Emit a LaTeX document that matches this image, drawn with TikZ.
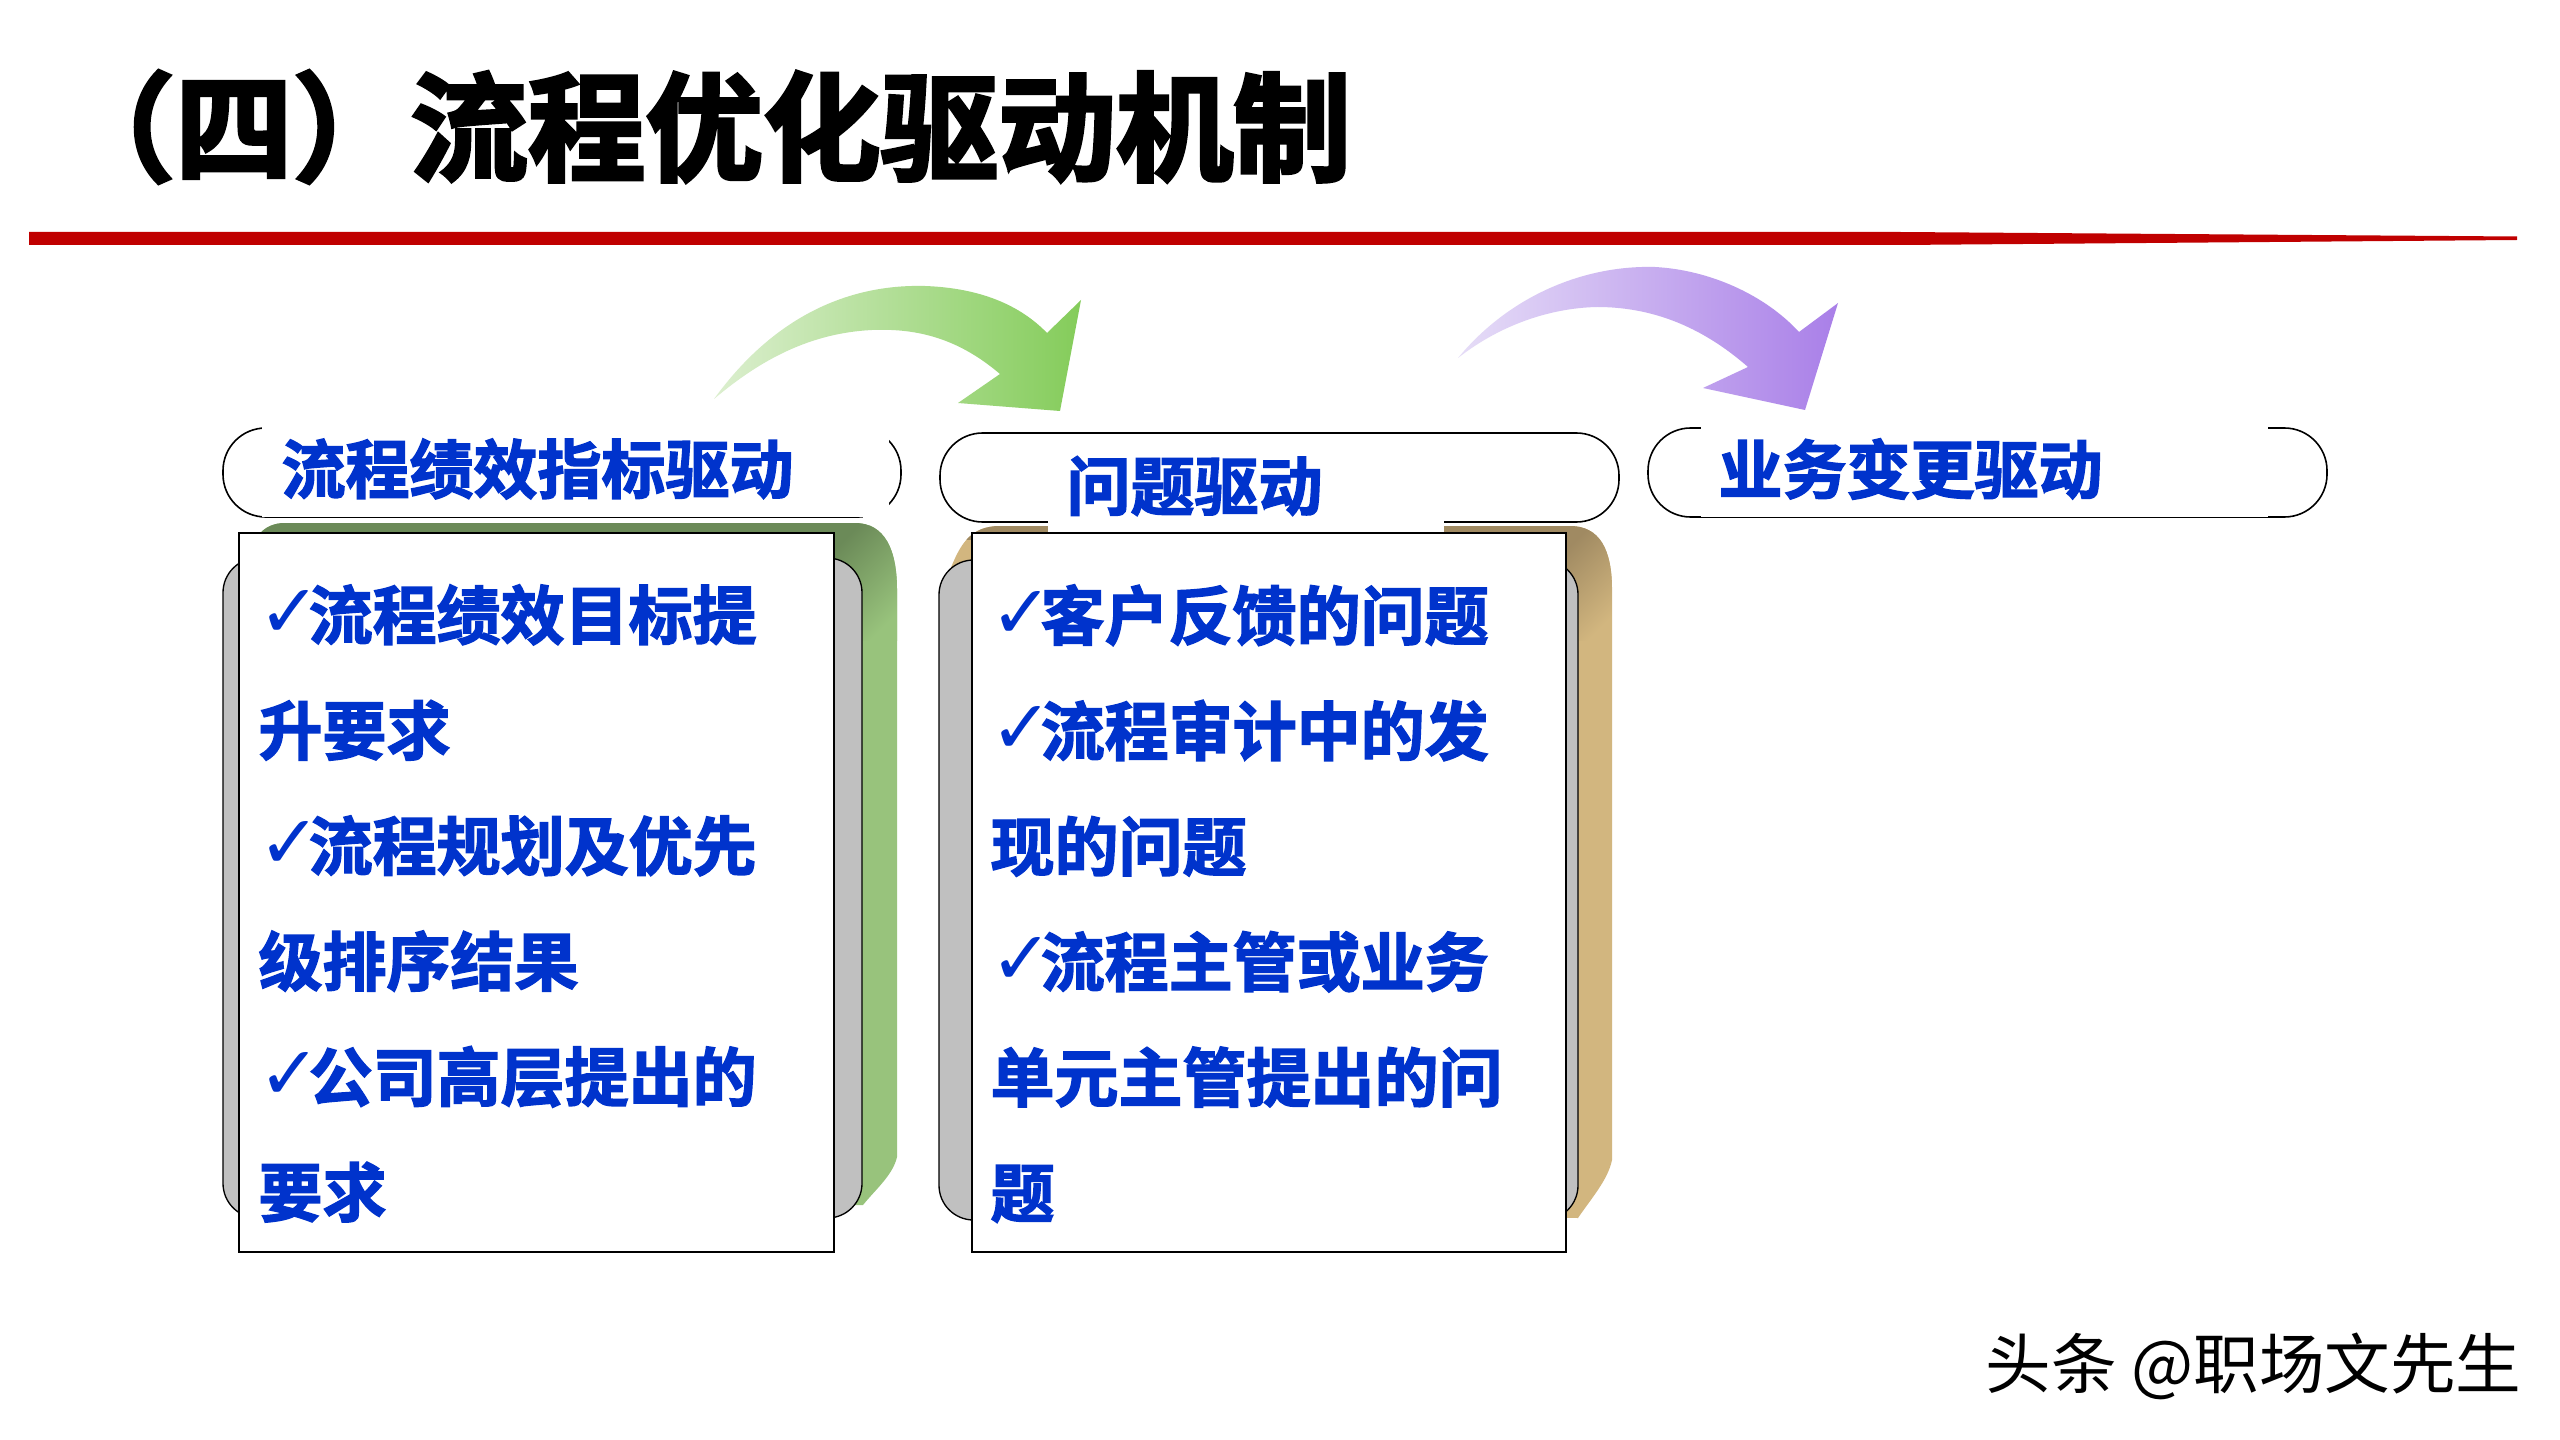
\documentclass[tikz,border=0pt]{standalone}
\usepackage{fontspec}
\usepackage{tikz}
\newfontfamily\cjkbold[FakeBold=2.2]{Noto Sans CJK SC Bold}
\newfontfamily\cjktitle[FakeBold=3]{Noto Sans CJK SC Bold}
\newfontfamily\cjkplain{Noto Sans CJK SC}
\newfontfamily\symfont{DejaVu Sans}
\definecolor{titlered}{HTML}{C00000}
\definecolor{textblue}{HTML}{0033CC}
\definecolor{greenback}{HTML}{98C37C}
\definecolor{greendark}{HTML}{6B8A58}
\definecolor{brownback}{HTML}{D2B67F}
\definecolor{browndark}{HTML}{A08A62}
\definecolor{boxgrey}{HTML}{C0C0C0}
\definecolor{arrowgreena}{HTML}{DCEFCF}
\definecolor{arrowgreenb}{HTML}{84CC5A}
\definecolor{arrowpurplea}{HTML}{E6DDF7}
\definecolor{arrowpurpleb}{HTML}{A97FE8}
\newcommand{\tick}{\makebox[18.8pt][l]{\raisebox{0.5pt}{\symfont\fontsize{28}{28}\selectfont ✓}}}
\tikzset{
  pillline/.style={draw=black, line width=0.6pt, fill=white, rounded corners=16pt},
  greybox/.style={draw=black, line width=0.5pt, fill=boxgrey, rounded corners=13pt},
  whitebox/.style={draw=black, line width=0.6pt, fill=white},
  headtext/.style={anchor=west, inner sep=0pt, text=textblue, font=\cjkbold\fontsize{24}{24}\selectfont},
  bodytext/.style={anchor=north west, inner sep=0pt, align=left, text=textblue, font=\cjkbold\fontsize{24}{43.3}\selectfont}
}
\begin{document}
\begin{tikzpicture}[x=0.375pt, y=-0.375pt]
    \useasboundingbox (0,0) rectangle (2560,1440);
    \fill[white] (0,0) rectangle (2560,1440);

    % title and rule
    \node[anchor=west, inner sep=0pt, font=\cjktitle\fontsize{44.1}{44.1}\selectfont] (title) at (57,127) {（四）流程优化驱动机制};
    \fill[titlered] (29,232) -- (1900,232) -- (2517,236.5) -- (2517,240) -- (1900,245) -- (29,245) -- cycle;

    % curved arrows
    \shade[left color=arrowgreena, right color=arrowgreenb]
        (714,399) .. controls (775,315) and (850,284) .. (925,286)
        .. controls (980,288) and (1020,305) .. (1047,333) -- (1081,300) -- (1060,411) -- (958,403) -- (1000,374)
        .. controls (960,340) and (920,328) .. (872,330) .. controls (810,333) and (760,360) .. (714,399) -- cycle;
    \shade[left color=arrowpurplea, right color=arrowpurpleb]
        (1458,358) .. controls (1510,295) and (1585,265) .. (1655,267)
        .. controls (1710,270) and (1765,295) .. (1799,332) -- (1838,303) -- (1805,410) -- (1703,388) -- (1748,367)
        .. controls (1700,325) and (1650,307) .. (1597,307) .. controls (1550,308) and (1500,325) .. (1458,358) -- cycle;

    % backs of the two columns
    \begin{scope}
        \clip (245,570) .. controls (250,540) and (262,523) .. (285,523) -- (855,523)
            .. controls (885,523) and (897,550) .. (897,590) -- (897,1157) .. controls (893,1175) and (875,1190) .. (863,1205) -- (260,1205) -- (245,1100) -- cycle;
        \fill[greenback] (230,510) rectangle (910,1220);
        \fill[greendark] (230,510) rectangle (834,540);
        \shade[left color=greendark, middle color=greenback, right color=greenback, shading angle=45] (834,523) rectangle (897,640);
    \end{scope}
    \begin{scope}
        \clip (950,570) .. controls (960,545) and (970,526) .. (1000,526) -- (1570,526)
            .. controls (1600,526) and (1612,550) .. (1612,590) -- (1612,1160) .. controls (1608,1180) and (1590,1200) .. (1578,1218) -- (985,1210) -- (950,1100) -- cycle;
        \fill[brownback] (930,510) rectangle (1620,1240);
        \fill[browndark] (930,510) rectangle (1566,540);
        \shade[left color=browndark, middle color=brownback, right color=brownback, shading angle=45] (1566,526) rectangle (1612,640);
    \end{scope}
    \draw[greybox] (223,558) rectangle (862,1218);
    \draw[greybox] (939,560) rectangle (1578,1220);

    % pills, partly hidden by the white label areas
    \draw[pillline] (223,428) rectangle (901,517);
    \draw[pillline] (940,433) rectangle (1619,522);
    \draw[pillline] (1648,428) rectangle (2327,517);
    \fill[white] (262,420) rectangle (889,517);
    \fill[white] (863,505) rectangle (889,520);
    \fill[white] (1048,437) rectangle (1444,533);
    \fill[white] (1701,420) rectangle (2268,517);

    \node[headtext] (heada) at (281,469) {流程绩效指标驱动};
    \node[headtext] (headb) at (1066,486) {问题驱动};
    \node[headtext] (headc) at (1718,469) {业务变更驱动};

    % text boxes
    \draw[whitebox] (239,533) rectangle (834,1252);
    \draw[whitebox] (972,533) rectangle (1566,1252);
    \node[bodytext] (bodya) at (258,584) {\tick 流程绩效目标提\\升要求\\\tick 流程规划及优先\\级排序结果\\\tick 公司高层提出的\\要求};
    \node[bodytext] (bodyb) at (990,584) {\tick 客户反馈的问题\\\tick 流程审计中的发\\现的问题\\\tick 流程主管或业务\\单元主管提出的问\\题};

    \node[anchor=west, inner sep=0pt, font=\cjkplain\fontsize{24.6}{25}\selectfont] (mark) at (1985,1366) {头条 @职场文先生};
\end{tikzpicture}
\end{document}
